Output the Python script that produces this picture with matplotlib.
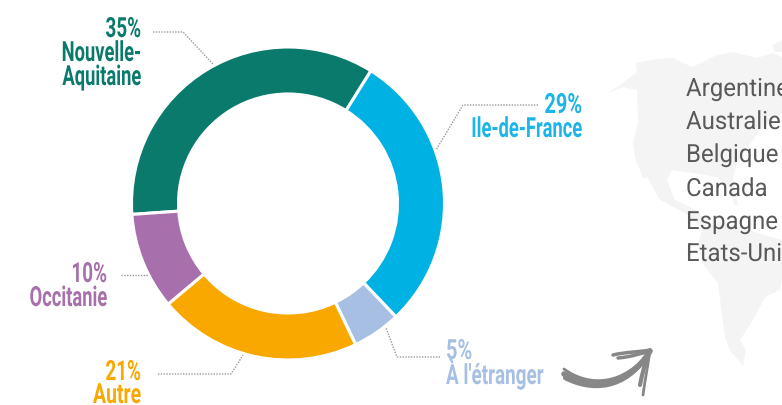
import matplotlib
matplotlib.use('Agg')
import matplotlib.pyplot as plt
from matplotlib.path import Path
from matplotlib.patches import PathPatch, Polygon
from matplotlib.patheffects import AbstractPathEffect
from matplotlib.transforms import Affine2D

regions = ['Nouvelle-Aquitaine', 'Ile-de-France', "À l'étranger", 'Autre', 'Occitanie']
shares = [35, 29, 5, 21, 10]
colors = ['#0a7a6d', '#00b2e3', '#a6bfe3', '#f9a800', '#a76fab']
text_colors = ['#0a7a6d', '#1cb5ea', '#a6bfe3', '#f9a800', '#a76fab']
countries = ['Argentine', 'Australie', 'Belgique', 'Canada', 'Espagne', 'Etats-Unis']
country_baselines = [96, 129, 162, 196, 229, 261]

# map outline in pixels
north_america = [(608, 93), (623, 83), (637, 72), (636, 63), (657, 59), (673, 58), (692, 67), (703, 62),
                 (717, 55), (733, 52), (757, 58), (773, 53), (782, 57), (782, 113), (760, 130), (737, 163),
                 (733, 177), (738, 205), (734, 205), (730, 187), (717, 177), (693, 173), (672, 170), (667, 180),
                 (675, 200), (700, 212), (705, 228), (698, 225), (685, 213), (660, 200), (647, 177), (643, 178),
                 (635, 157), (633, 143), (638, 123), (637, 90), (623, 87)]
south_america = [(703, 228), (698, 243), (702, 263), (718, 283), (723, 323), (725, 337), (730, 350), (743, 366),
                 (746, 350), (740, 340), (753, 320), (765, 297), (780, 290), (782, 280), (782, 240), (720, 222)]
greenland = [(772, 45), (782, 40), (782, 52), (775, 52)]


# squeezes a text sideways around x0, the fonts here have no condensed cut
class Squeeze(AbstractPathEffect):
    def __init__(self, x0, sx):
        super().__init__()
        self.x0 = x0
        self.sx = sx

    def draw_path(self, renderer, gc, tpath, affine, rgbFace=None):
        squeeze = Affine2D().translate(-self.x0, 0).scale(self.sx, 1).translate(self.x0, 0)
        renderer.draw_path(gc, tpath, affine + squeeze, rgbFace)


def label(x, y, s, color, ha, sx):
    ax.text(x, y, s, color=color, ha=ha, va='baseline', fontsize=20, family='Roboto', weight='bold',
            path_effects=[Squeeze(x, sx)])


def leader(xs, ys):
    ax.plot(xs, ys, color='#999999', lw=1, ls=(0, (1, 1)), solid_capstyle='butt')


def stroke(p0, p1, p2, p3, lw):
    path = Path([p0, p1, p2, p3], [Path.MOVETO, Path.CURVE4, Path.CURVE4, Path.CURVE4])
    ax.add_patch(PathPatch(path, fc='none', ec='#878787', lw=lw, capstyle='round'))


fig = plt.figure(figsize=(7.82, 4.05), dpi=100)
ax = fig.add_axes([0, 0, 1, 1])

for shape in [north_america, south_america, greenland]:
    ax.add_patch(Polygon(shape, closed=True, fc='#f4f4f4', ec='none'))

ax.pie(shares, colors=colors, startangle=176, counterclock=True, center=(288, 203.5), radius=156.5,
       wedgeprops={'width': 47, 'edgecolor': 'white', 'linewidth': 2.2})
ax.set_xlim(0, 782)
ax.set_ylim(405, 0)
ax.set_aspect('auto')
ax.axis('off')

# percent and name labels
label(141, 37, f'{shares[0]}%', text_colors[0], 'right', 0.68)
label(141, 61, 'Nouvelle-', text_colors[0], 'right', 0.66)
label(141, 85, 'Aquitaine', text_colors[0], 'right', 0.66)
label(582, 113, f'{shares[1]}%', text_colors[1], 'right', 0.72)
label(582, 137, regions[1], text_colors[1], 'right', 0.66)
label(446, 359, f'{shares[2]}%', text_colors[2], 'left', 0.72)
label(446, 384, regions[2], text_colors[2], 'left', 0.68)
label(141, 380, f'{shares[3]}%', text_colors[3], 'right', 0.68)
label(141, 403, regions[3], text_colors[3], 'right', 0.7)
label(107, 282, f'{shares[4]}%', text_colors[4], 'right', 0.68)
label(107, 306, regions[4], text_colors[4], 'right', 0.66)

leader([153, 183, 213], [32, 32, 64])
leader([538, 463, 436], [105, 105, 150])
leader([440, 397, 386], [357, 357, 328])
leader([121, 148], [275, 275])
leader([158, 231, 243], [374, 374, 355])

for c, y in zip(countries, country_baselines):
    ax.text(686, y, c, fontsize=18, family='Roboto', color='#595959', va='baseline',
            path_effects=[Squeeze(686, 0.96)])

# hand drawn arrow
stroke((564, 369), (590, 388), (625, 385), (650, 351), 2)
stroke((564, 374), (590, 390), (628, 388), (650, 351), 4)
stroke((565, 378), (590, 391), (625, 392), (649, 353), 3)
stroke((613, 355), (625, 352), (640, 352), (650, 350), 2.5)
stroke((618, 358), (630, 357), (640, 354), (649, 351), 2.5)
stroke((643, 395), (645, 380), (648, 365), (650, 350), 2)
stroke((640, 385), (642, 375), (645, 362), (649, 352), 3)

fig.savefig('out.png', dpi=100)
